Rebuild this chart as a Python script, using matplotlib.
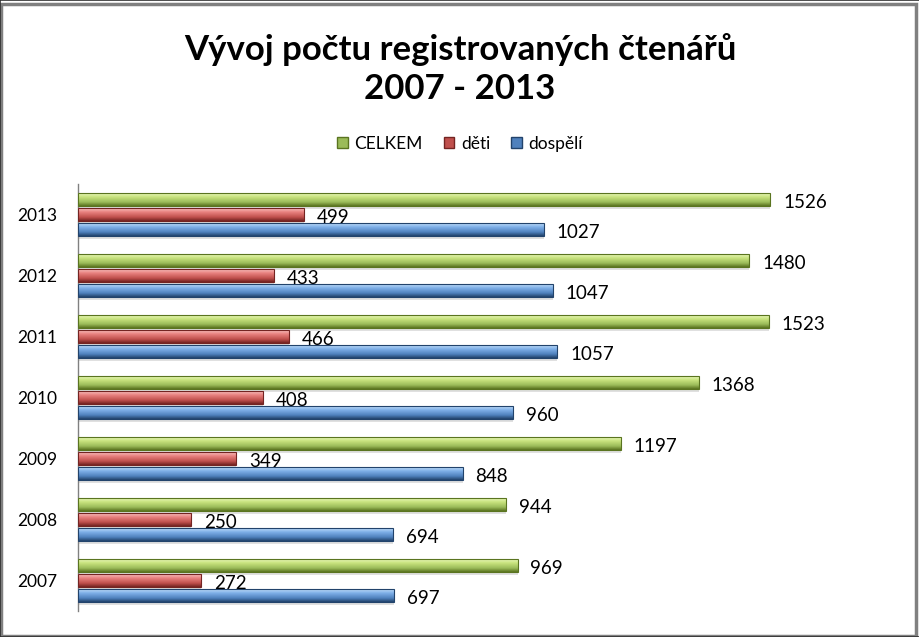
import numpy as np
import matplotlib
matplotlib.use("Agg")
import matplotlib.pyplot as plt
from matplotlib.colors import LinearSegmentedColormap
from matplotlib.patches import Rectangle

years = ["2007", "2008", "2009", "2010", "2011", "2012", "2013"]
celkem = [969, 944, 1197, 1368, 1523, 1480, 1526]
deti = [272, 250, 349, 408, 466, 433, 499]
dospeli = [697, 694, 848, 960, 1057, 1047, 1027]

series = [
    ("CELKEM", celkem, ["#5a7420", "#9bbb59", "#c8e37e", "#e8f7b8"]),
    ("děti", deti, ["#742422", "#c0504d", "#e98280", "#f8c0be"]),
    ("dospělí", dospeli, ["#22436b", "#4f81bd", "#7fb0e8", "#c0dcf8"]),
]

plt.rcParams['font.family'] = ['Lato', 'DejaVu Sans']

fig = plt.figure(figsize=(9.2, 6.37), dpi=100)
W, H = 920, 637
ax = fig.add_axes([78 / W, 1 - 611 / H, (900 - 78) / W, (611 - 184) / H])

y = np.arange(len(years))
offsets = [0.246, 0.0, -0.246]
bh = 0.21
grad = np.linspace(0, 1, 64).reshape(-1, 1)

for (name, vals, cols), off in zip(series, offsets):
    cmap = LinearSegmentedColormap.from_list(name, [(0, cols[0]), (0.3, cols[1]), (0.7, cols[2]), (1.0, cols[3])])
    # shadow
    ax.barh(y + off - 0.045, vals, height=bh, color="#000000", alpha=0.12, zorder=1)
    bars = ax.barh(y + off, vals, height=bh, color=cols[1], zorder=2)
    for b, v in zip(bars, vals):
        x0, y0, w, h = b.get_x(), b.get_y(), b.get_width(), b.get_height()
        im = ax.imshow(grad, cmap=cmap, aspect="auto", extent=[x0, x0 + w, y0, y0 + h],
                       origin="lower", zorder=3)
        im.set_clip_path(b)
        ax.add_patch(Rectangle((x0, y0), w, h, fill=False, edgecolor=cols[0], linewidth=0.8, zorder=4))
        ax.text(v + 28, y0 + h / 2 - 0.055, str(v), va="center", ha="left", fontsize=13.5,
                color="#000000", zorder=5)

ax.set_xlim(0, 1812)
ax.set_ylim(-0.5, 6.5)
ax.set_yticks(y)
ax.set_yticklabels(years, fontsize=12.5)
ax.tick_params(axis="y", length=0, pad=15)
ax.set_xticks([])
for s in ["top", "right", "bottom"]:
    ax.spines[s].set_visible(False)
ax.spines["left"].set_color("#808080")
ax.spines["left"].set_linewidth(1)

fig.text(0.5, 1 - 50 / H, "Vývoj počtu registrovaných čtenářů", ha="center", va="center",
         fontsize=25, fontweight="bold")
fig.text(0.5, 1 - 89 / H, "2007 - 2013", ha="center", va="center", fontsize=25, fontweight="bold")

handles = [Rectangle((0, 0), 1, 1, facecolor=cols[1], edgecolor=cols[0]) for _, _, cols in series]
labels = [name for name, _, _ in series]
fig.legend(handles, labels, loc="center", bbox_to_anchor=(0.5, 1 - 144 / H), ncol=3, frameon=False,
           fontsize=12.5, handlelength=0.6, handleheight=0.6, handletextpad=0.4, columnspacing=1.2)

# frame
fig.patches.append(Rectangle((1.5 / W, 1.5 / H), (W - 5) / W, (H - 5) / H, transform=fig.transFigure,
                             fill=False, edgecolor="#808080", linewidth=2.5))
fig.patches.append(Rectangle((0, 0), 1, 1, transform=fig.transFigure, fill=False,
                             edgecolor="#303030", linewidth=1.2))

fig.savefig("out.png", dpi=100, facecolor="white")
